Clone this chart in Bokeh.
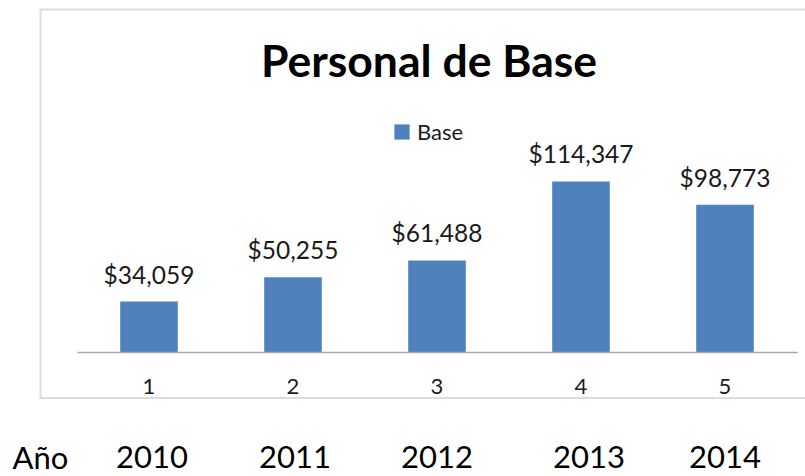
from bokeh.plotting import figure
from bokeh.models import (Range1d, LinearAxis, FixedTicker, Legend, LegendItem,
                          BoxAnnotation, ColumnDataSource)
from bokeh.core.properties import value
from bokeh.embed import file_html
from bokeh.resources import INLINE

# ---- data ----
categories = [1, 2, 3, 4, 5]
base_values = [34059, 50255, 61488, 114347, 98773]
years = ["2010", "2011", "2012", "2013", "2014"]
title_text = "Personal de Base"
series_name = "Base"
year_caption = "Año"

# ---- layout helpers (page pixel -> data) ----
W, H = 805, 476
MARGIN = 0
CAT0_PX, CAT_STEP = 148.5, 144.0        # page x of category 1, spacing
ZERO_PX = 352.0                         # page y of value 0
K = 171.0 / 114347.0                    # pixels per unit
BASE_FIX = 0.37                         # em correction for baseline placement


def xpx(page_x):
    return 1 + (page_x - CAT0_PX) / CAT_STEP


def ypx(page_y):
    return (ZERO_PX - page_y) / K


FONT = "Lato"
BLUE = "#4F81BD"

p = figure(width=W, height=H, output_backend="svg", toolbar_location=None,
           x_range=Range1d(xpx(MARGIN), xpx(MARGIN + W)),
           y_range=Range1d(ypx(MARGIN + H), ypx(MARGIN)),
           x_axis_location=None, y_axis_location=None,
           min_border=0, outline_line_color=None)
p.xgrid.visible = False
p.ygrid.visible = False
p.background_fill_color = "white"
p.border_fill_color = "white"

# chart border box (right side falls outside the window, as in the reference)
box = BoxAnnotation(left=xpx(40), right=xpx(840), top=ypx(9), bottom=ypx(397.5),
                    fill_alpha=0, line_color="#8a8a8a", line_width=2)
p.add_layout(box)

src = ColumnDataSource(dict(
    x=categories,
    top=base_values,
    label=[f"${v:,}" for v in base_values],
))

bars = p.vbar(x="x", top="top", bottom=0, width=0.4, source=src,
              fill_color=BLUE, line_color=None)

# data labels
LBL = 24.5
p.text(x="x", y="top", text="label", source=src,
       text_align="center", text_baseline="alphabetic",
       y_offset=-18.5 - BASE_FIX * LBL,
       text_font=value(FONT), text_font_size=f"{LBL}px", text_color="#1a1a1a")

# category axis at value 0
xaxis = LinearAxis(fixed_location=0, ticker=FixedTicker(ticks=categories),
                   bounds=(0.5, 5.5))
xaxis.axis_line_color = "#a6a6a6"
xaxis.axis_line_width = 1.5
xaxis.major_tick_line_color = None
xaxis.minor_tick_line_color = None
xaxis.major_label_text_font = FONT
xaxis.major_label_text_font_size = "22px"
xaxis.major_label_text_color = "#1a1a1a"
xaxis.major_label_standoff = 20
p.add_layout(xaxis, "below")

# title
TT = 44.5
p.text(x=[xpx(428.5)], y=[ypx(75 - BASE_FIX * TT)], text=[title_text],
       text_align="center", text_baseline="alphabetic", text_font=value(FONT),
       text_font_style="bold", text_font_size=f"{TT}px", text_color="#000000")

# legend
legend = Legend(items=[LegendItem(label=series_name, renderers=[bars])],
                location=(392 - MARGIN, H - (145 - MARGIN)),
                glyph_width=19, glyph_height=19, label_standoff=6,
                padding=0, margin=0, spacing=0,
                border_line_color=None, background_fill_alpha=0,
                label_text_font=FONT, label_text_font_size="22px",
                label_text_color="#1a1a1a")
p.add_layout(legend)

# year row below the chart
YR = 31
year_nudge_px = [3, 2, 0, 8, 0]
p.text(x=categories, y=[ypx(468 - BASE_FIX * YR)] * len(years), text=years,
       x_offset=year_nudge_px,
       text_align="center", text_baseline="alphabetic",
       text_font=value(FONT), text_font_size=f"{YR}px", text_color="#000000")
p.text(x=[xpx(12)], y=[ypx(468 - BASE_FIX * YR)], text=[year_caption],
       text_align="left", text_baseline="alphabetic", text_font=value(FONT),
       text_font_size=f"{YR}px", text_color="#000000")

open("out.html", "w").write(file_html(p, INLINE))
